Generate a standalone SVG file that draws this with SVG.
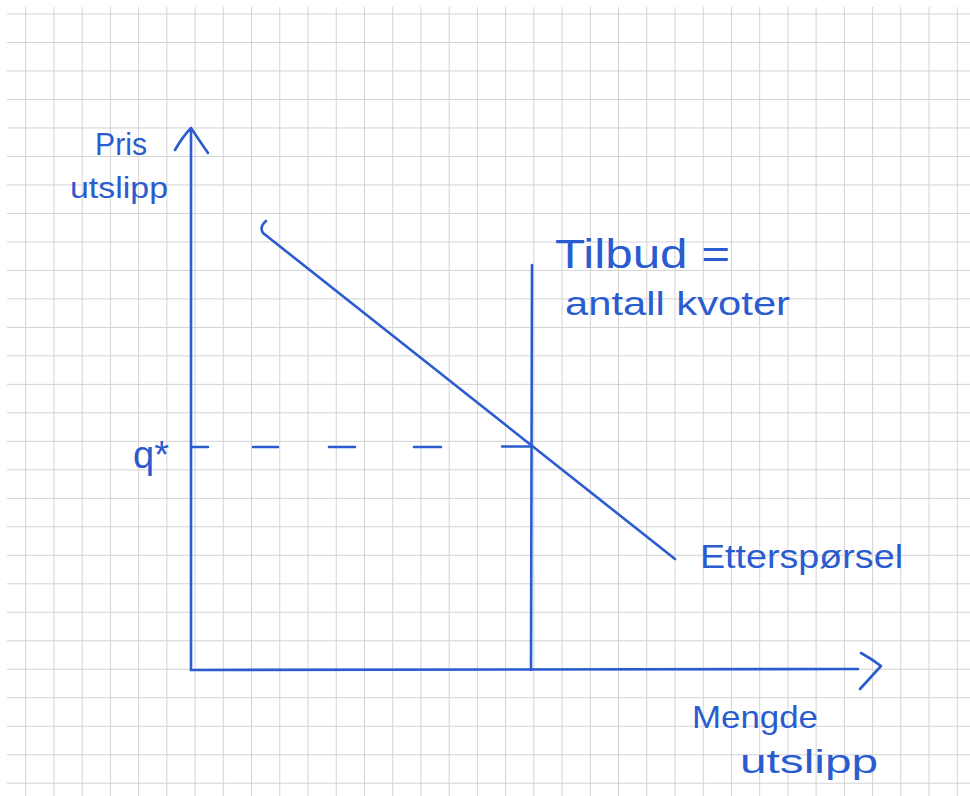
<svg xmlns="http://www.w3.org/2000/svg" width="970" height="796" viewBox="0 0 970 796">
  <defs>
    <pattern id="grid" patternUnits="userSpaceOnUse" x="25.2" y="13.5" width="28.23" height="28.49">
      <path d="M0.5 0V28.49M0 0.5H28.23" fill="none" stroke="#d2d2d2" stroke-width="1"/>
    </pattern>
    <style>
      .ink { fill: none; stroke: #2a5ccf; stroke-width: 2.6; stroke-linecap: round; stroke-linejoin: round; }
      .hand { fill: #2a5ccf; font-family: "Liberation Sans", Arial, sans-serif; }
    </style>
  </defs>

  <rect x="0" y="0" width="970" height="796" fill="#ffffff"/>
  <rect x="7" y="7" width="963" height="789" fill="url(#grid)"/>

  <g id="connectors">
    <g id="y-axis">
      <path class="ink" d="M191 670 L191 129"/>
      <path class="ink" d="M175 150 Q183 136 191 128 Q199 140 208 153"/>
    </g>
    <g id="x-axis">
      <path class="ink" d="M191 670 L858 669"/>
      <path class="ink" d="M861 653 Q872 659 881 666 Q870 678 860 689"/>
    </g>
    <g id="demand-curve">
      <path class="ink" d="M266 221 Q259 227 263 233 L675 559"/>
    </g>
    <g id="supply-line">
      <path class="ink" d="M532 265 L531 670"/>
    </g>
    <g id="q-star-dashes">
      <path class="ink" d="M191 447 H208 M253 447 H278 M329 447 H355 M414 447 H441 M502 446.5 H531"/>
    </g>
  </g>

  <g id="label-price">
    <text class="hand" x="95" y="155" font-size="32" textLength="52" lengthAdjust="spacingAndGlyphs">Pris</text>
    <text class="hand" x="70" y="198" font-size="30" textLength="98" lengthAdjust="spacingAndGlyphs">utslipp</text>
  </g>

  <g id="label-supply">
    <text class="hand" x="555" y="268" font-size="40" textLength="175" lengthAdjust="spacingAndGlyphs">Tilbud =</text>
    <text class="hand" x="565" y="315" font-size="34" textLength="225" lengthAdjust="spacingAndGlyphs">antall kvoter</text>
  </g>

  <g id="label-qstar">
    <text class="hand" x="133" y="468" font-size="38">q*</text>
  </g>

  <g id="label-demand">
    <text class="hand" x="700" y="568" font-size="34" textLength="203" lengthAdjust="spacingAndGlyphs">Etterspørsel</text>
  </g>

  <g id="label-quantity">
    <text class="hand" x="692" y="728" font-size="32" textLength="126" lengthAdjust="spacingAndGlyphs">Mengde</text>
    <text class="hand" x="740" y="773" font-size="34" textLength="138" lengthAdjust="spacingAndGlyphs">utslipp</text>
  </g>
</svg>
